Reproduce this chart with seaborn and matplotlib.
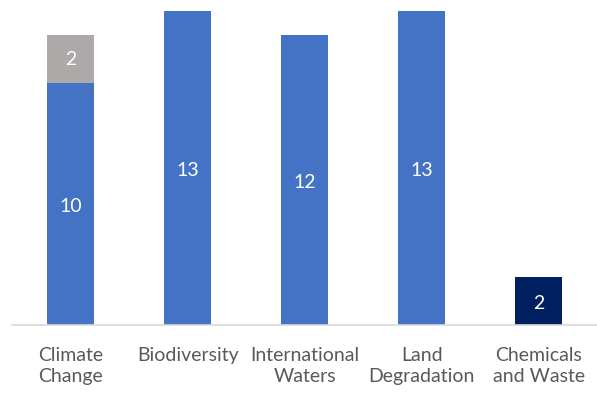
import matplotlib
matplotlib.use("Agg")
import matplotlib.pyplot as plt
import seaborn as sns
import pandas as pd

# Projects per focal area
categories = ["Climate\nChange", "Biodiversity", "International\nWaters",
              "Land\nDegradation", "Chemicals\nand Waste"]
main_counts = [10, 13, 12, 13, 2]
extra_counts = [2, 0, 0, 0, 0]

BLUE = "#4472C4"
GREY = "#ACA9A8"
NAVY = "#002060"
TEXT = "#595959"
bar_colors = [BLUE, BLUE, BLUE, BLUE, NAVY]

sns.set_style("white")
plt.rcParams["font.family"] = ["Lato", "DejaVu Sans"]

df = pd.DataFrame({"category": categories, "main": main_counts,
                   "extra": extra_counts})
df["total"] = df["main"] + df["extra"]

fig = plt.figure(figsize=(5.97, 3.94), dpi=100)
ax = fig.add_axes([12.2 / 597, 69 / 394, 585 / 597, 314.3 / 394])

# stacked: totals in grey underneath, main segment drawn over it
sns.barplot(data=df, x="category", y="total", color=GREY, width=0.4,
            ax=ax, saturation=1, linewidth=0)
sns.barplot(data=df, x="category", y="main", hue="category",
            palette=bar_colors, width=0.4, ax=ax, saturation=1,
            legend=False, linewidth=0)

for i, (m, e) in enumerate(zip(main_counts, extra_counts)):
    ax.text(i, m / 2 - 0.1, str(m), ha="center", va="center",
            color="white", fontsize=14)
    if e:
        ax.text(i, m + e / 2, str(e), ha="center", va="center",
                color="white", fontsize=14)

ax.set_ylim(0, 13)
ax.set_xlim(-0.5, len(categories) - 0.5)
ax.set_xlabel("")
ax.set_ylabel("")
ax.set_yticks([])
for side in ["top", "right", "left"]:
    ax.spines[side].set_visible(False)
ax.spines["bottom"].set_color("#D9D9D9")
ax.spines["bottom"].set_linewidth(1.2)
ax.tick_params(axis="x", length=0, pad=16, labelsize=14, labelcolor=TEXT)
for lbl in ax.get_xticklabels():
    lbl.set_va("top")
    lbl.set_linespacing(1.3)

fig.savefig("out.png", dpi=100)
